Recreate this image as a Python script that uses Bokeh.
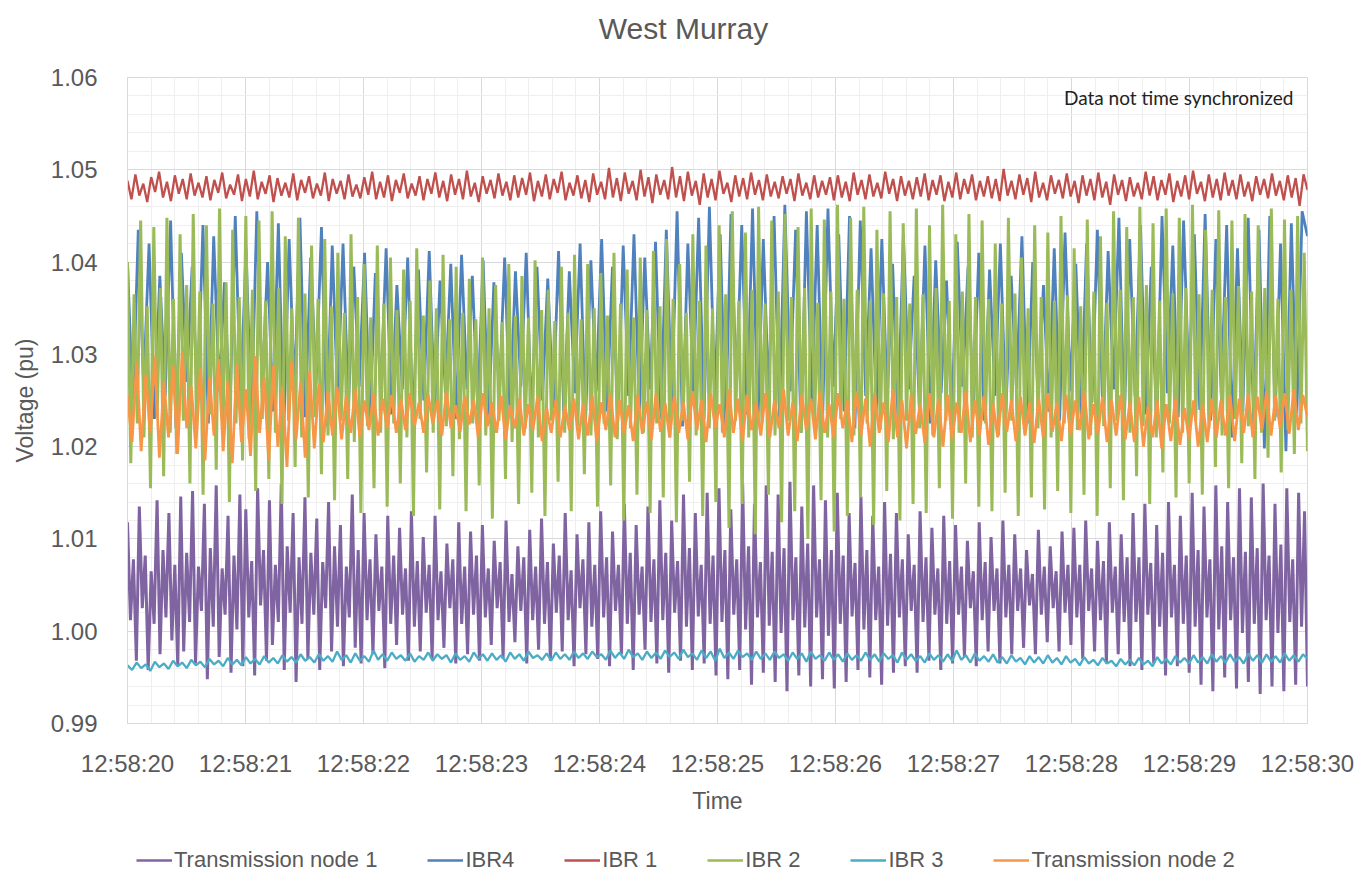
import numpy as np
from bokeh.plotting import figure
from bokeh.layouts import column
from bokeh.models import FixedTicker, Legend, LegendItem, Label, PrintfTickFormatter
from bokeh.embed import file_html
from bokeh.resources import INLINE

# ---------------- data ----------------
chart_title = "West Murray"
tick_labels = ["12:58:20", "12:58:21", "12:58:22", "12:58:23", "12:58:24", "12:58:25",
               "12:58:26", "12:58:27", "12:58:28", "12:58:29", "12:58:30"]
y_ticks = [0.99, 1.00, 1.01, 1.02, 1.03, 1.04, 1.05, 1.06]
series_names = ["Transmission node 1", "IBR4", "IBR 1", "IBR 2", "IBR 3", "Transmission node 2"]
series_colors = ["#8064A2", "#4F81BD", "#C0504D", "#9BBB59", "#4BACC6", "#F79646"]

tn1_pu = [
    1.0118, 1.0012, 1.0078, 0.9968, 1.0135, 1.0025, 1.0082, 0.9958, 1.0065, 1.0008, 1.0142, 0.9975, 1.0088, 1.0015, 1.0128, 0.9990, 1.0072, 0.9962, 1.0146, 0.9978,
    1.0085, 1.0010, 1.0152, 0.9965, 1.0070, 1.0022, 1.0138, 0.9948, 1.0090, 1.0005, 1.0158, 0.9972, 1.0068, 1.0018, 1.0125, 0.9955, 1.0082, 1.0002, 1.0148, 0.9962,
    1.0132, 1.0015, 1.0076, 0.9952, 1.0155, 1.0028, 1.0088, 0.9968, 1.0142, 0.9985, 1.0072, 1.0010, 1.0160, 0.9958, 1.0092, 1.0020, 1.0128, 0.9945, 1.0080, 1.0008,
    1.0145, 0.9970, 1.0085, 1.0018, 1.0122, 0.9958, 1.0075, 1.0025, 1.0140, 0.9978, 1.0092, 1.0005, 1.0115, 0.9962, 1.0070, 1.0015, 1.0148, 0.9982, 1.0088, 0.9965,
    1.0128, 1.0012, 1.0078, 0.9975, 1.0105, 1.0022, 1.0070, 0.9960, 1.0125, 1.0008, 1.0082, 0.9985, 1.0112, 1.0018, 1.0068, 0.9968, 1.0130, 1.0005, 1.0076, 0.9978,
    1.0102, 1.0020, 1.0072, 0.9970, 1.0125, 1.0012, 1.0065, 0.9982, 1.0095, 1.0025, 1.0078, 0.9965, 1.0118, 1.0008, 1.0070, 0.9975, 1.0108, 1.0018, 1.0082, 0.9968,
    1.0115, 1.0015, 1.0068, 0.9985, 1.0098, 1.0025, 1.0075, 0.9970, 1.0120, 1.0010, 1.0062, 0.9988, 1.0092, 1.0022, 1.0080, 0.9965, 1.0110, 1.0012, 1.0070, 0.9980,
    1.0122, 1.0008, 1.0075, 0.9968, 1.0095, 1.0020, 1.0082, 0.9978, 1.0128, 1.0012, 1.0066, 0.9962, 1.0105, 1.0025, 1.0078, 0.9975, 1.0118, 1.0005, 1.0072, 0.9970,
    1.0130, 1.0015, 1.0080, 0.9962, 1.0108, 1.0022, 1.0072, 0.9975, 1.0138, 1.0008, 1.0085, 0.9958, 1.0115, 1.0018, 1.0070, 0.9980, 1.0135, 1.0010, 1.0078, 0.9965,
    1.0142, 1.0012, 1.0085, 0.9955, 1.0120, 1.0020, 1.0076, 0.9968, 1.0148, 1.0005, 1.0090, 0.9958, 1.0128, 1.0016, 1.0072, 0.9965, 1.0150, 1.0008, 1.0082, 0.9952,
    1.0155, 1.0010, 1.0088, 0.9948, 1.0132, 1.0018, 1.0078, 0.9958, 1.0160, 1.0002, 1.0092, 0.9942, 1.0138, 1.0015, 1.0075, 0.9955, 1.0158, 1.0006, 1.0086, 0.9945,
    1.0148, 0.9998, 1.0090, 0.9935, 1.0162, 1.0012, 1.0080, 0.9952, 1.0135, 1.0004, 1.0095, 0.9940, 1.0158, 1.0015, 1.0078, 0.9948, 1.0142, 0.9995, 1.0088, 0.9938,
    1.0150, 1.0008, 1.0082, 0.9945, 1.0128, 1.0016, 1.0074, 0.9958, 1.0146, 1.0002, 1.0088, 0.9950, 1.0125, 1.0012, 1.0070, 0.9942, 1.0140, 1.0006, 1.0084, 0.9955,
    1.0128, 1.0015, 1.0078, 0.9962, 1.0105, 1.0022, 1.0072, 0.9955, 1.0130, 1.0010, 1.0080, 0.9968, 1.0112, 1.0018, 1.0068, 0.9958, 1.0125, 1.0008, 1.0076, 0.9965,
    1.0115, 1.0018, 1.0070, 0.9972, 1.0098, 1.0025, 1.0065, 0.9962, 1.0118, 1.0012, 1.0075, 0.9978, 1.0102, 1.0022, 1.0068, 0.9965, 1.0120, 1.0015, 1.0072, 0.9975,
    1.0105, 1.0022, 1.0068, 0.9982, 1.0088, 1.0028, 1.0062, 0.9975, 1.0110, 1.0018, 1.0070, 0.9988, 1.0092, 1.0025, 1.0065, 0.9978, 1.0108, 1.0020, 1.0072, 0.9985,
    1.0112, 1.0015, 1.0072, 0.9970, 1.0120, 1.0022, 1.0068, 0.9978, 1.0098, 1.0012, 1.0076, 0.9965, 1.0118, 1.0020, 1.0070, 0.9975, 1.0105, 1.0010, 1.0080, 0.9962,
    1.0128, 1.0010, 1.0080, 0.9958, 1.0138, 1.0018, 1.0074, 0.9965, 1.0115, 1.0005, 1.0085, 0.9952, 1.0140, 1.0015, 1.0072, 0.9962, 1.0125, 1.0008, 1.0082, 0.9955,
    1.0150, 1.0005, 1.0088, 0.9942, 1.0135, 1.0015, 1.0078, 0.9935, 1.0158, 1.0002, 1.0092, 0.9950, 1.0140, 1.0012, 1.0080, 0.9938, 1.0155, 0.9998, 1.0086, 0.9945,
    1.0145, 1.0008, 1.0090, 0.9932, 1.0160, 1.0012, 1.0082, 0.9940, 1.0138, 0.9998, 1.0094, 0.9935, 1.0155, 1.0010, 1.0078, 0.9942, 1.0150, 1.0005, 1.0130, 0.9940,
]

ibr4_pu = [
    1.0400, 1.0240, 1.0435, 1.0265, 1.0420, 1.0230, 1.0385, 1.0255, 1.0445, 1.0220, 1.0410, 1.0270, 1.0395, 1.0245, 1.0440, 1.0225, 1.0428, 1.0260, 1.0378, 1.0235,
    1.0450, 1.0250, 1.0415, 1.0228, 1.0455, 1.0262, 1.0400, 1.0238, 1.0442, 1.0215, 1.0425, 1.0258, 1.0448, 1.0232, 1.0405, 1.0268, 1.0438, 1.0222, 1.0418, 1.0250,
    1.0420, 1.0242, 1.0395, 1.0265, 1.0410, 1.0228, 1.0388, 1.0255, 1.0415, 1.0235, 1.0375, 1.0262, 1.0405, 1.0225, 1.0392, 1.0250, 1.0412, 1.0238, 1.0380, 1.0258,
    1.0398, 1.0230, 1.0408, 1.0262, 1.0385, 1.0240, 1.0402, 1.0225, 1.0378, 1.0255, 1.0405, 1.0235, 1.0390, 1.0265, 1.0410, 1.0228, 1.0395, 1.0250, 1.0382, 1.0242,
    1.0412, 1.0232, 1.0390, 1.0258, 1.0420, 1.0225, 1.0402, 1.0260, 1.0425, 1.0238, 1.0395, 1.0228, 1.0418, 1.0255, 1.0430, 1.0235, 1.0405, 1.0262, 1.0422, 1.0230,
    1.0435, 1.0245, 1.0455, 1.0222, 1.0420, 1.0258, 1.0448, 1.0230, 1.0460, 1.0250, 1.0430, 1.0218, 1.0452, 1.0262, 1.0440, 1.0235, 1.0458, 1.0225, 1.0425, 1.0255,
    1.0450, 1.0232, 1.0462, 1.0260, 1.0435, 1.0215, 1.0455, 1.0248, 1.0440, 1.0228, 1.0458, 1.0265, 1.0430, 1.0238, 1.0450, 1.0220, 1.0445, 1.0255, 1.0415, 1.0235,
    1.0425, 1.0250, 1.0398, 1.0230, 1.0430, 1.0262, 1.0385, 1.0238, 1.0418, 1.0225, 1.0402, 1.0258, 1.0380, 1.0232, 1.0422, 1.0265, 1.0395, 1.0240, 1.0410, 1.0228,
    1.0392, 1.0255, 1.0420, 1.0235, 1.0385, 1.0262, 1.0428, 1.0225, 1.0400, 1.0250, 1.0375, 1.0238, 1.0415, 1.0228, 1.0432, 1.0260, 1.0398, 1.0232, 1.0420, 1.0248,
    1.0435, 1.0238, 1.0412, 1.0262, 1.0448, 1.0228, 1.0425, 1.0255, 1.0440, 1.0235, 1.0395, 1.0220, 1.0450, 1.0258, 1.0418, 1.0232, 1.0445, 1.0265, 1.0430, 1.0240,
    1.0452, 1.0228, 1.0425, 1.0255, 1.0440, 1.0210, 1.0415, 1.0238, 1.0448, 1.0225, 1.0435, 1.0198, 1.0450, 1.0232, 1.0420, 1.0195, 1.0442, 1.0230, 1.0455, 1.0428,
]

ibr1_pu = [
    1.0488, 1.0468, 1.0495, 1.0472, 1.0485, 1.0465, 1.0492, 1.0476, 1.0498, 1.0470, 1.0487, 1.0466, 1.0494, 1.0474, 1.0490, 1.0468, 1.0496, 1.0472, 1.0486, 1.0470,
    1.0493, 1.0467, 1.0489, 1.0475, 1.0497, 1.0469, 1.0484, 1.0473, 1.0495, 1.0466, 1.0490, 1.0471, 1.0499, 1.0468, 1.0487, 1.0474, 1.0494, 1.0465, 1.0491, 1.0472,
    1.0486, 1.0470, 1.0496, 1.0467, 1.0489, 1.0475, 1.0493, 1.0469, 1.0485, 1.0472, 1.0497, 1.0466, 1.0490, 1.0474, 1.0488, 1.0468, 1.0495, 1.0471, 1.0484, 1.0469,
    1.0492, 1.0473, 1.0498, 1.0468, 1.0487, 1.0470, 1.0494, 1.0466, 1.0489, 1.0475, 1.0496, 1.0469, 1.0485, 1.0472, 1.0493, 1.0467, 1.0490, 1.0474, 1.0497, 1.0470,
    1.0488, 1.0466, 1.0495, 1.0473, 1.0490, 1.0468, 1.0499, 1.0471, 1.0486, 1.0465, 1.0493, 1.0474, 1.0489, 1.0469, 1.0496, 1.0472, 1.0487, 1.0467, 1.0494, 1.0470,
    1.0491, 1.0473, 1.0497, 1.0466, 1.0488, 1.0471, 1.0495, 1.0468, 1.0490, 1.0475, 1.0498, 1.0467, 1.0486, 1.0472, 1.0494, 1.0469, 1.0489, 1.0465, 1.0496, 1.0473,
    1.0487, 1.0468, 1.0502, 1.0470, 1.0491, 1.0466, 1.0497, 1.0474, 1.0488, 1.0467, 1.0500, 1.0471, 1.0492, 1.0464, 1.0495, 1.0473, 1.0489, 1.0468, 1.0503, 1.0470,
    1.0493, 1.0466, 1.0498, 1.0472, 1.0488, 1.0462, 1.0496, 1.0470, 1.0490, 1.0467, 1.0499, 1.0474, 1.0486, 1.0465, 1.0494, 1.0471, 1.0491, 1.0468, 1.0497, 1.0473,
    1.0489, 1.0467, 1.0495, 1.0471, 1.0487, 1.0469, 1.0493, 1.0474, 1.0490, 1.0466, 1.0496, 1.0472, 1.0486, 1.0468, 1.0494, 1.0470, 1.0488, 1.0473, 1.0492, 1.0467,
    1.0494, 1.0470, 1.0487, 1.0466, 1.0497, 1.0473, 1.0489, 1.0468, 1.0495, 1.0471, 1.0486, 1.0469, 1.0498, 1.0474, 1.0490, 1.0466, 1.0493, 1.0472, 1.0488, 1.0468,
    1.0492, 1.0471, 1.0496, 1.0467, 1.0489, 1.0473, 1.0494, 1.0466, 1.0487, 1.0470, 1.0497, 1.0468, 1.0490, 1.0474, 1.0495, 1.0467, 1.0488, 1.0471, 1.0493, 1.0469,
    1.0490, 1.0466, 1.0501, 1.0472, 1.0488, 1.0468, 1.0495, 1.0473, 1.0491, 1.0465, 1.0498, 1.0470, 1.0486, 1.0467, 1.0494, 1.0474, 1.0489, 1.0469, 1.0496, 1.0471,
    1.0488, 1.0464, 1.0494, 1.0472, 1.0490, 1.0467, 1.0497, 1.0470, 1.0487, 1.0462, 1.0495, 1.0473, 1.0489, 1.0466, 1.0492, 1.0471, 1.0486, 1.0468, 1.0498, 1.0472,
    1.0493, 1.0467, 1.0489, 1.0473, 1.0496, 1.0465, 1.0488, 1.0471, 1.0494, 1.0468, 1.0499, 1.0474, 1.0487, 1.0466, 1.0495, 1.0470, 1.0490, 1.0467, 1.0497, 1.0472,
    1.0489, 1.0468, 1.0495, 1.0471, 1.0487, 1.0466, 1.0493, 1.0473, 1.0490, 1.0469, 1.0496, 1.0472, 1.0488, 1.0467, 1.0494, 1.0470, 1.0491, 1.0461, 1.0495, 1.0478,
]

ibr2_pu = [
    1.0400, 1.0182, 1.0365, 1.0225, 1.0445, 1.0210, 1.0352, 1.0155, 1.0438, 1.0232, 1.0372, 1.0168, 1.0448, 1.0215, 1.0360, 1.0192, 1.0430, 1.0228, 1.0375, 1.0160,
    1.0452, 1.0218, 1.0368, 1.0148, 1.0440, 1.0235, 1.0355, 1.0175, 1.0458, 1.0212, 1.0378, 1.0140, 1.0435, 1.0225, 1.0362, 1.0185, 1.0450, 1.0208, 1.0370, 1.0152,
    1.0445, 1.0230, 1.0358, 1.0165, 1.0455, 1.0215, 1.0372, 1.0138, 1.0428, 1.0228, 1.0350, 1.0178, 1.0448, 1.0210, 1.0366, 1.0145, 1.0418, 1.0232, 1.0360, 1.0170,
    1.0425, 1.0212, 1.0352, 1.0142, 1.0410, 1.0228, 1.0345, 1.0165, 1.0430, 1.0205, 1.0362, 1.0128, 1.0398, 1.0222, 1.0340, 1.0155, 1.0418, 1.0215, 1.0355, 1.0135,
    1.0405, 1.0225, 1.0348, 1.0160, 1.0392, 1.0210, 1.0358, 1.0125, 1.0415, 1.0230, 1.0342, 1.0172, 1.0380, 1.0215, 1.0350, 1.0132, 1.0408, 1.0222, 1.0338, 1.0168,
    1.0395, 1.0208, 1.0345, 1.0130, 1.0382, 1.0225, 1.0338, 1.0158, 1.0405, 1.0212, 1.0350, 1.0122, 1.0375, 1.0228, 1.0335, 1.0165, 1.0398, 1.0205, 1.0342, 1.0138,
    1.0385, 1.0220, 1.0340, 1.0150, 1.0402, 1.0210, 1.0348, 1.0125, 1.0370, 1.0228, 1.0336, 1.0162, 1.0395, 1.0215, 1.0345, 1.0130, 1.0408, 1.0222, 1.0338, 1.0170,
    1.0398, 1.0212, 1.0350, 1.0135, 1.0388, 1.0225, 1.0342, 1.0158, 1.0410, 1.0208, 1.0355, 1.0120, 1.0392, 1.0220, 1.0340, 1.0148, 1.0405, 1.0215, 1.0348, 1.0128,
    1.0412, 1.0225, 1.0352, 1.0145, 1.0425, 1.0210, 1.0360, 1.0118, 1.0398, 1.0228, 1.0345, 1.0162, 1.0430, 1.0212, 1.0358, 1.0125, 1.0418, 1.0220, 1.0350, 1.0140,
    1.0440, 1.0215, 1.0365, 1.0112, 1.0455, 1.0228, 1.0358, 1.0138, 1.0432, 1.0210, 1.0370, 1.0105, 1.0460, 1.0225, 1.0355, 1.0148, 1.0445, 1.0212, 1.0368, 1.0118,
    1.0452, 1.0228, 1.0362, 1.0130, 1.0438, 1.0215, 1.0372, 1.0100, 1.0458, 1.0222, 1.0356, 1.0142, 1.0446, 1.0210, 1.0368, 1.0108, 1.0462, 1.0230, 1.0360, 1.0125,
    1.0448, 1.0212, 1.0370, 1.0145, 1.0460, 1.0225, 1.0358, 1.0115, 1.0435, 1.0218, 1.0366, 1.0152, 1.0455, 1.0208, 1.0362, 1.0120, 1.0442, 1.0228, 1.0355, 1.0138,
    1.0458, 1.0220, 1.0365, 1.0128, 1.0440, 1.0212, 1.0372, 1.0155, 1.0462, 1.0228, 1.0358, 1.0122, 1.0430, 1.0215, 1.0368, 1.0160, 1.0452, 1.0210, 1.0362, 1.0135,
    1.0445, 1.0225, 1.0360, 1.0130, 1.0420, 1.0212, 1.0355, 1.0150, 1.0448, 1.0228, 1.0366, 1.0125, 1.0405, 1.0215, 1.0350, 1.0145, 1.0440, 1.0220, 1.0362, 1.0132,
    1.0432, 1.0210, 1.0358, 1.0152, 1.0450, 1.0225, 1.0364, 1.0128, 1.0415, 1.0218, 1.0352, 1.0148, 1.0446, 1.0212, 1.0368, 1.0125, 1.0428, 1.0222, 1.0356, 1.0155,
    1.0455, 1.0228, 1.0370, 1.0142, 1.0438, 1.0215, 1.0362, 1.0168, 1.0460, 1.0222, 1.0375, 1.0138, 1.0442, 1.0210, 1.0358, 1.0172, 1.0458, 1.0225, 1.0366, 1.0145,
    1.0448, 1.0215, 1.0372, 1.0160, 1.0462, 1.0228, 1.0365, 1.0148, 1.0435, 1.0220, 1.0370, 1.0178, 1.0456, 1.0212, 1.0362, 1.0155, 1.0445, 1.0230, 1.0374, 1.0182,
    1.0452, 1.0222, 1.0368, 1.0165, 1.0440, 1.0215, 1.0372, 1.0188, 1.0458, 1.0228, 1.0360, 1.0172, 1.0446, 1.0218, 1.0370, 1.0192, 1.0450, 1.0225, 1.0410, 1.0195,
]

ibr3_pu = [
    0.9963, 0.9958, 0.9966, 0.9960, 0.9964, 0.9957, 0.9967, 0.9961, 0.9965, 0.9959, 0.9968, 0.9962, 0.9966, 0.9960, 0.9969, 0.9963, 0.9967, 0.9961, 0.9970, 0.9964,
    0.9968, 0.9962, 0.9971, 0.9964, 0.9969, 0.9963, 0.9972, 0.9965, 0.9970, 0.9964, 0.9973, 0.9966, 0.9971, 0.9965, 0.9974, 0.9967, 0.9972, 0.9966, 0.9975, 0.9968,
    0.9972, 0.9966, 0.9975, 0.9968, 0.9973, 0.9967, 0.9978, 0.9969, 0.9974, 0.9966, 0.9976, 0.9968, 0.9973, 0.9967, 0.9979, 0.9969, 0.9975, 0.9968, 0.9977, 0.9970,
    0.9974, 0.9968, 0.9976, 0.9967, 0.9973, 0.9969, 0.9977, 0.9968, 0.9975, 0.9970, 0.9974, 0.9966, 0.9976, 0.9969, 0.9973, 0.9967, 0.9977, 0.9970, 0.9975, 0.9968,
    0.9976, 0.9969, 0.9974, 0.9967, 0.9977, 0.9970, 0.9975, 0.9968, 0.9978, 0.9971, 0.9974, 0.9969, 0.9976, 0.9968, 0.9977, 0.9970, 0.9975, 0.9969, 0.9978, 0.9971,
    0.9976, 0.9970, 0.9978, 0.9972, 0.9975, 0.9969, 0.9979, 0.9971, 0.9977, 0.9970, 0.9980, 0.9972, 0.9976, 0.9969, 0.9978, 0.9971, 0.9977, 0.9970, 0.9979, 0.9972,
    0.9977, 0.9970, 0.9980, 0.9972, 0.9976, 0.9969, 0.9979, 0.9971, 0.9978, 0.9968, 0.9981, 0.9971, 0.9977, 0.9970, 0.9979, 0.9972, 0.9976, 0.9969, 0.9978, 0.9970,
    0.9976, 0.9969, 0.9978, 0.9971, 0.9975, 0.9968, 0.9977, 0.9970, 0.9976, 0.9967, 0.9978, 0.9970, 0.9974, 0.9968, 0.9977, 0.9969, 0.9975, 0.9967, 0.9976, 0.9969,
    0.9974, 0.9968, 0.9977, 0.9969, 0.9975, 0.9967, 0.9976, 0.9970, 0.9974, 0.9966, 0.9977, 0.9969, 0.9975, 0.9968, 0.9973, 0.9966, 0.9976, 0.9969, 0.9974, 0.9967,
    0.9975, 0.9968, 0.9979, 0.9969, 0.9974, 0.9966, 0.9976, 0.9968, 0.9973, 0.9967, 0.9975, 0.9966, 0.9972, 0.9965, 0.9974, 0.9967, 0.9971, 0.9964, 0.9973, 0.9966,
    0.9972, 0.9965, 0.9974, 0.9966, 0.9971, 0.9964, 0.9973, 0.9966, 0.9970, 0.9963, 0.9972, 0.9965, 0.9969, 0.9963, 0.9971, 0.9965, 0.9968, 0.9962, 0.9970, 0.9964,
    0.9969, 0.9963, 0.9971, 0.9964, 0.9968, 0.9962, 0.9972, 0.9965, 0.9970, 0.9964, 0.9973, 0.9966, 0.9971, 0.9965, 0.9974, 0.9966, 0.9972, 0.9965, 0.9975, 0.9967,
    0.9973, 0.9966, 0.9975, 0.9967, 0.9972, 0.9965, 0.9976, 0.9968, 0.9974, 0.9966, 0.9975, 0.9967, 0.9973, 0.9966, 0.9976, 0.9968, 0.9974, 0.9967, 0.9975, 0.9970,
]

tn2_pu = [
    1.0255, 1.0205, 1.0292, 1.0195, 1.0278, 1.0215, 1.0298, 1.0188, 1.0270, 1.0210, 1.0288, 1.0192, 1.0302, 1.0220, 1.0265, 1.0198, 1.0285, 1.0185, 1.0275, 1.0212,
    1.0295, 1.0195, 1.0270, 1.0182, 1.0290, 1.0205, 1.0262, 1.0190, 1.0298, 1.0215, 1.0275, 1.0185, 1.0288, 1.0200, 1.0265, 1.0178, 1.0292, 1.0208, 1.0270, 1.0188,
    1.0282, 1.0198, 1.0268, 1.0205, 1.0260, 1.0212, 1.0265, 1.0208, 1.0255, 1.0215, 1.0262, 1.0210, 1.0250, 1.0218, 1.0258, 1.0212, 1.0252, 1.0220, 1.0256, 1.0215,
    1.0252, 1.0218, 1.0258, 1.0222, 1.0248, 1.0215, 1.0256, 1.0225, 1.0250, 1.0212, 1.0260, 1.0220, 1.0245, 1.0216, 1.0255, 1.0224, 1.0250, 1.0210, 1.0258, 1.0222,
    1.0248, 1.0215, 1.0255, 1.0208, 1.0245, 1.0220, 1.0252, 1.0212, 1.0246, 1.0218, 1.0254, 1.0206, 1.0242, 1.0215, 1.0250, 1.0210, 1.0244, 1.0218, 1.0252, 1.0208,
    1.0246, 1.0212, 1.0255, 1.0205, 1.0248, 1.0218, 1.0258, 1.0210, 1.0250, 1.0215, 1.0245, 1.0206, 1.0256, 1.0214, 1.0249, 1.0208, 1.0258, 1.0216, 1.0247, 1.0210,
    1.0255, 1.0215, 1.0248, 1.0208, 1.0260, 1.0218, 1.0250, 1.0205, 1.0258, 1.0220, 1.0246, 1.0210, 1.0262, 1.0215, 1.0252, 1.0206, 1.0256, 1.0218, 1.0248, 1.0212,
    1.0258, 1.0210, 1.0250, 1.0220, 1.0262, 1.0212, 1.0248, 1.0206, 1.0256, 1.0218, 1.0252, 1.0208, 1.0260, 1.0215, 1.0246, 1.0210, 1.0258, 1.0220, 1.0250, 1.0205,
    1.0260, 1.0212, 1.0252, 1.0200, 1.0258, 1.0215, 1.0248, 1.0205, 1.0262, 1.0210, 1.0250, 1.0198, 1.0256, 1.0214, 1.0246, 1.0204, 1.0258, 1.0210, 1.0252, 1.0200,
    1.0256, 1.0208, 1.0248, 1.0215, 1.0260, 1.0205, 1.0250, 1.0212, 1.0255, 1.0202, 1.0246, 1.0210, 1.0258, 1.0216, 1.0250, 1.0206, 1.0254, 1.0212, 1.0248, 1.0204,
    1.0252, 1.0210, 1.0258, 1.0216, 1.0248, 1.0206, 1.0256, 1.0212, 1.0250, 1.0218, 1.0260, 1.0208, 1.0246, 1.0214, 1.0254, 1.0205, 1.0250, 1.0212, 1.0256, 1.0208,
    1.0248, 1.0205, 1.0254, 1.0200, 1.0244, 1.0210, 1.0250, 1.0198, 1.0246, 1.0206, 1.0252, 1.0202, 1.0242, 1.0208, 1.0250, 1.0200, 1.0246, 1.0205, 1.0252, 1.0210,
    1.0250, 1.0212, 1.0256, 1.0206, 1.0252, 1.0215, 1.0258, 1.0210, 1.0254, 1.0218, 1.0260, 1.0212, 1.0255, 1.0220, 1.0258, 1.0214, 1.0262, 1.0218, 1.0256, 1.0232,
]

series_values = [tn1_pu, ibr4_pu, ibr1_pu, ibr2_pu, ibr3_pu, tn2_pu]
series_widths = [3.0, 2.8, 2.3, 3.0, 2.3, 2.8]

# ---------------- styling ----------------
FONT = "Liberation Sans"
GREY = "#595959"
W = 1358
TITLE_H, MAIN_H, LEG_H = 56, 764, 61
FRAME_LEFT, FRAME_W = 127, 1180   # frames of the stacked figures are aligned


def strip(height):
    f = figure(width=W, height=height, x_range=(0, FRAME_W), y_range=(0, height),
               output_backend="svg", toolbar_location=None,
               min_border_left=FRAME_LEFT, min_border_right=W - FRAME_LEFT - FRAME_W,
               min_border_top=0, min_border_bottom=0,
               x_axis_location=None, y_axis_location=None, outline_line_color=None)
    f.grid.visible = False
    return f


# ---------------- title strip ----------------
pt = strip(TITLE_H)
pt.add_layout(Label(x=683 - FRAME_LEFT, y=28, text=chart_title, text_align="center",
                    text_baseline="middle", text_font=FONT, text_font_size="30px",
                    text_color=GREY))

# ---------------- main chart ----------------
p = figure(width=W, height=MAIN_H, x_range=(0, 10), y_range=(0.99, 1.06),
           output_backend="svg", toolbar_location=None,
           min_border_left=FRAME_LEFT, min_border_right=W - FRAME_LEFT - FRAME_W,
           min_border_top=21, min_border_bottom=97,
           background_fill_color="white", border_fill_color="white")
p.outline_line_color = "#d9d9d9"

x_major = list(range(len(tick_labels)))
x_minor = [i * 0.2 for i in range(51)]
p.xaxis.ticker = FixedTicker(ticks=x_major, minor_ticks=x_minor)
p.xaxis.major_label_overrides = {i: lab for i, lab in enumerate(tick_labels)}

y_minor = [0.99 + i * 0.002 for i in range(36)]
p.yaxis.ticker = FixedTicker(ticks=y_ticks, minor_ticks=y_minor)
p.yaxis.formatter = PrintfTickFormatter(format="%.2f")

for ax in (p.xaxis[0], p.yaxis[0]):
    ax.axis_line_color = "#d9d9d9"
    ax.major_tick_line_color = None
    ax.minor_tick_line_color = None
    ax.major_label_text_font = FONT
    ax.major_label_text_font_size = "24px"
    ax.major_label_text_color = GREY
    ax.axis_label_text_font = FONT
    ax.axis_label_text_font_size = "23px"
    ax.axis_label_text_font_style = "normal"
    ax.axis_label_text_color = GREY

p.xaxis.axis_label = "Time"
p.yaxis.axis_label = "Voltage (pu)"
p.xaxis.major_label_standoff = 20
p.yaxis.major_label_standoff = 24
p.xaxis.axis_label_standoff = 8
p.yaxis.axis_label_standoff = 10

p.xgrid.grid_line_color = "#d9d9d9"
p.ygrid.grid_line_color = "#d9d9d9"
p.xgrid.minor_grid_line_color = "#efefef"
p.ygrid.minor_grid_line_color = "#efefef"

for name, color, vals, w in zip(series_names, series_colors, series_values, series_widths):
    t = np.linspace(0, 10, len(vals))
    p.line(t, vals, line_color=color, line_width=w)

p.add_layout(Label(x=9.88, y=1.0578, text="Data not time synchronized",
                   text_align="right", text_baseline="middle",
                   text_font="Lato", text_font_size="19px", text_color="#222222"))

# ---------------- legend strip ----------------
pl = strip(LEG_H)
items = []
for name, color, vals in zip(series_names, series_colors, series_values):
    t = np.linspace(0, 10, len(vals))
    # same series, kept hidden: only its legend sample is drawn here
    r = pl.line(t, vals, line_color=color, line_width=2.5, visible=False)
    items.append(LegendItem(label=name, renderers=[r]))

legend = Legend(items=items, orientation="horizontal", location=(136 - FRAME_LEFT, 8))
legend.click_policy = "none"
legend.inactive_fill_alpha = 0
legend.label_text_font = FONT
legend.label_text_font_size = "22px"
legend.label_text_color = GREY
legend.glyph_width = 36
legend.glyph_height = 20
legend.label_standoff = 2
legend.spacing = 50
legend.padding = 0
legend.margin = 0
legend.border_line_color = None
legend.background_fill_alpha = 0
pl.add_layout(legend, "center")

layout = column(pt, p, pl, spacing=0)
open("out.html", "w").write(file_html(layout, INLINE))
